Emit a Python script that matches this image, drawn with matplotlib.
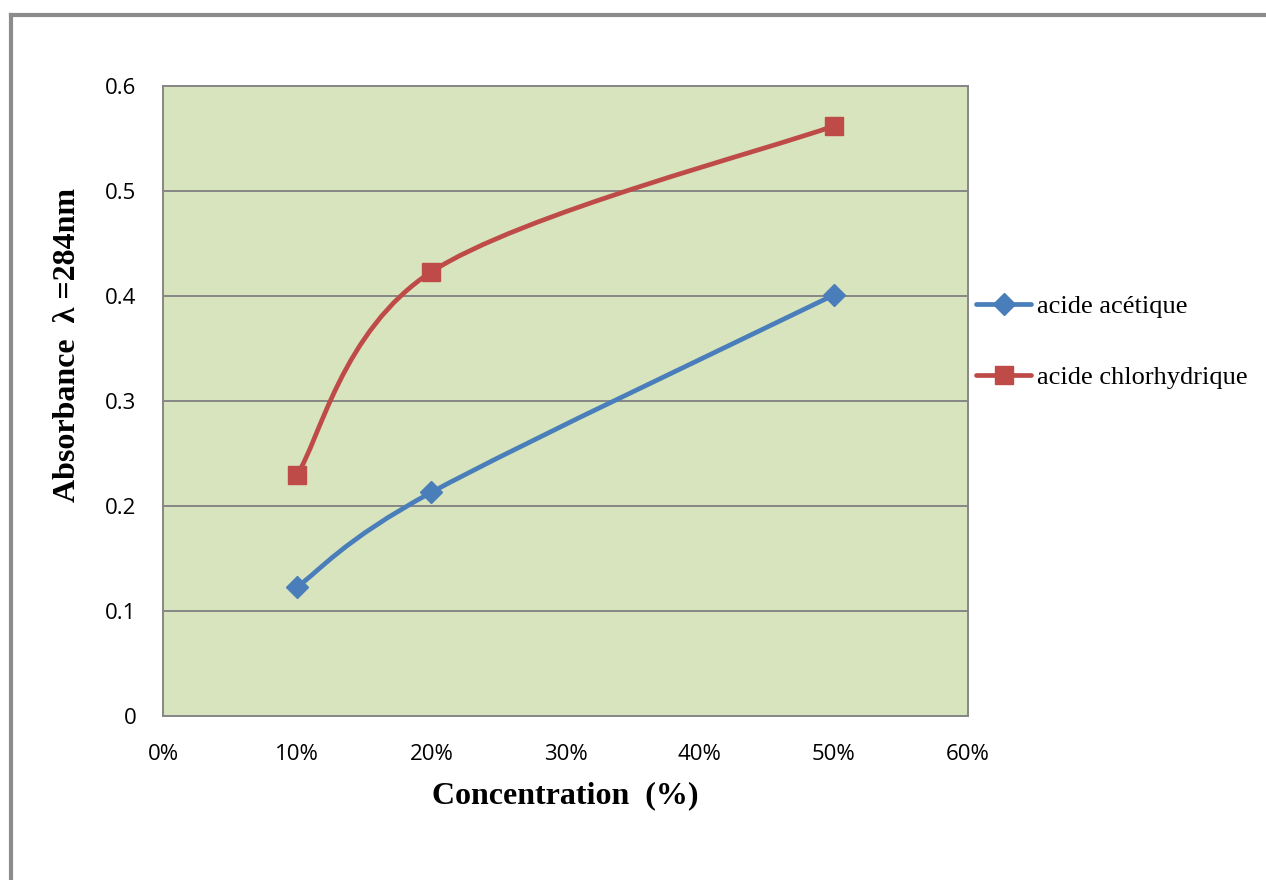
import matplotlib.pyplot as plt
import numpy as np
from matplotlib.path import Path
from matplotlib.patches import PathPatch
from matplotlib.lines import Line2D
from matplotlib.ticker import FuncFormatter

# data
concentration = [0.10, 0.20, 0.50]
acetique = [0.123, 0.213, 0.401]
chlorhydrique = [0.230, 0.423, 0.562]
series_names = ["acide acétique", "acide chlorhydrique"]

blue = "#4A7EBB"
red = "#BE4B48"
grid_gray = "#868686"

fig = plt.figure(figsize=(12.66, 8.8), dpi=100)
ax = fig.add_axes([163/1266, 1 - 716/880, 805/1266, 630/880])
ax.set_facecolor("#D7E4BD")
ax.set_xlim(0, 0.6)
ax.set_ylim(0, 0.6)
ax.set_xticks(np.arange(0, 0.61, 0.1))
ax.set_yticks(np.arange(0, 0.61, 0.1))
ax.xaxis.set_major_formatter(FuncFormatter(lambda v, p: f"{v*100:.0f}%"))
ax.yaxis.set_major_formatter(FuncFormatter(lambda v, p: "0" if v == 0 else f"{v:.1f}"))
ax.tick_params(length=0, labelsize=16, pad=19)
ax.tick_params(axis="x", pad=20)
for lab in ax.get_xticklabels() + ax.get_yticklabels():
    lab.set_fontfamily("Open Sans")
ax.grid(axis="y", color=grid_gray, lw=1.4)
ax.set_axisbelow(True)
for s in ax.spines.values():
    s.set_color(grid_gray)
    s.set_linewidth(1.4)


def smooth_path(xs, ys):
    # Excel-like smoothed line, control points computed in screen space
    pts = ax.transData.transform(np.column_stack([xs, ys]))
    ext = np.vstack([pts[0], pts, pts[-1]])
    verts = [pts[0]]
    codes = [Path.MOVETO]
    for i in range(len(pts) - 1):
        p0, p1, p2, p3 = ext[i], ext[i + 1], ext[i + 2], ext[i + 3]
        c1 = p1 + (p2 - p0) / 6
        c2 = p2 - (p3 - p1) / 6
        verts += [c1, c2, p2]
        codes += [Path.CURVE4] * 3
    verts = ax.transData.inverted().transform(np.array(verts))
    return Path(verts, codes)


for ys, col, mk, ms in [(acetique, blue, "D", 11), (chlorhydrique, red, "s", 13)]:
    ax.add_patch(PathPatch(smooth_path(concentration, ys), fill=False, edgecolor=col,
                           lw=3.4, capstyle="round", zorder=3))
    ax.plot(concentration, ys, ls="none", marker=mk, ms=ms, color=col, zorder=4)

handles = [Line2D([], [], color=blue, lw=3.4, marker="D", ms=11, solid_capstyle="round"),
           Line2D([], [], color=red, lw=3.4, marker="s", ms=13, solid_capstyle="round")]
fig.legend(handles, series_names, loc="center left",
           bbox_to_anchor=(976/1266, 1 - 342/880), frameon=False,
           prop={"family": "Liberation Serif", "size": 19},
           handlelength=2.1, handletextpad=0.2, labelspacing=1.8,
           borderpad=0, borderaxespad=0)

fig.text(565/1266, 1 - 796/880, "Concentration  (%)", ha="center", va="center",
         family="Liberation Serif", weight="bold", size=23)
fig.text(68/1266, 1 - 345/880, "Absorbance  λ =284nm", ha="center", va="center",
         rotation=90, family="Liberation Serif", weight="bold", size=23)

# outer chart frame (only left and top edges visible)
frame_col = "#8C8C8C"
fig.add_artist(Line2D([11/1266, 11/1266], [0, 1 - 15/880], color=frame_col, lw=3,
                      transform=fig.transFigure))
fig.add_artist(Line2D([11/1266, 1], [1 - 15/880, 1 - 15/880], color=frame_col, lw=3,
                      transform=fig.transFigure))

fig.savefig("out.png", dpi=100, facecolor="white")
